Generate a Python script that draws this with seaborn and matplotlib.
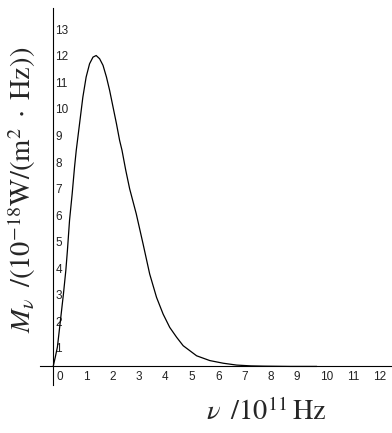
import numpy as np
import pandas as pd
import matplotlib
matplotlib.use('Agg')
import matplotlib.pyplot as plt
import matplotlib.transforms as mtransforms
import seaborn as sns

# valores (nu en 1e11 Hz, M en 1e-18 W/(m2 Hz))
nu = [0.0, 0.08, 0.16, 0.29, 0.39, 0.48, 0.54, 0.62, 0.72, 0.81, 0.875, 1.0,
      1.125, 1.25, 1.38, 1.51, 1.63, 1.76, 1.89, 2.02, 2.14, 2.27, 2.40,
      2.52, 2.61, 2.75, 2.90, 3.15, 3.41, 3.66, 3.92, 4.17, 4.42, 4.68, 4.93,
      5.44, 5.94, 6.45, 6.96, 7.5, 8.0, 9.0, 10.0]
M = [0.0, 0.35, 0.73, 1.86, 2.74, 3.62, 4.37, 5.50, 6.50, 7.51, 8.14, 9.14,
     10.14, 10.90, 11.40, 11.65, 11.71, 11.59, 11.34, 10.90, 10.40, 9.77,
     9.14, 8.51, 8.14, 7.40, 6.69, 5.75, 4.61, 3.48, 2.60, 1.97, 1.47, 1.10,
     0.78, 0.40, 0.22, 0.12, 0.05, 0.02, 0.01, 0.0, 0.0]

x_ticks = list(range(0, 13))
y_ticks = list(range(0, 14))
# el 0 del eje y coincide con el del eje x
y_labels = [''] + [str(t) for t in y_ticks[1:]]

df = pd.DataFrame({'nu': nu, 'M': M})

sns.set_style('white')
plt.rcParams['mathtext.fontset'] = 'stix'

fig = plt.figure(figsize=(3.92, 4.33), dpi=100)
ax = fig.add_axes([40/392, 1 - 385/433, 352/392, 377/433])

sns.lineplot(data=df, x='nu', y='M', color='black', linewidth=0.9, ax=ax)

ax.set_xlim(-0.5, 12.85)
ax.set_ylim(-0.7, 13.5)

# ejes cruzando en el origen
for s in ['top', 'right']:
    ax.spines[s].set_visible(False)
ax.spines['left'].set_position(('data', 0))
ax.spines['bottom'].set_position(('data', 0))
for s in ['left', 'bottom']:
    ax.spines[s].set_color('black')
    ax.spines[s].set_linewidth(0.8)

tick_font = dict(fontsize=8.5, fontfamily='Liberation Sans', color='#222222')
ax.set_xticks(x_ticks, [str(t) for t in x_ticks], ha='left', **tick_font)
ax.set_yticks(y_ticks, y_labels, ha='left', **tick_font)
ax.tick_params(axis='x', direction='in', length=2.5, width=0.8, pad=3.2)
ax.tick_params(axis='y', direction='in', length=2.5, width=0.8, pad=-1.5)

# etiquetas desplazadas como en el original
off_x = mtransforms.ScaledTranslation(0.035, 0, fig.dpi_scale_trans)
for lab in ax.get_xticklabels():
    lab.set_transform(lab.get_transform() + off_x)
off_y = mtransforms.ScaledTranslation(0, -0.08, fig.dpi_scale_trans)
for lab in ax.get_yticklabels():
    lab.set_transform(lab.get_transform() + off_y)

ax.set_xlabel(r'$\nu\;\;/10^{11}\,\mathrm{Hz}$', fontsize=20.5, va='center')
ax.xaxis.set_label_coords(0.642, -0.072)
ax.set_ylabel(r'$M_{\nu}\;\;/(10^{-18}\mathrm{W}/(\mathrm{m}^2\;\cdot\;\mathrm{Hz}))$',
              fontsize=20.5, va='center')
ax.yaxis.set_label_coords(-0.051, 0.517)

fig.savefig('out.png', dpi=100)
